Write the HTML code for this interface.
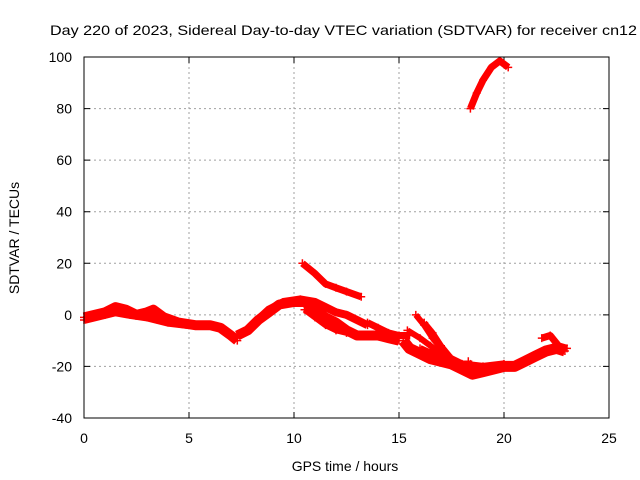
<!DOCTYPE html>
<html><head><meta charset="utf-8"><style>
html,body{margin:0;padding:0;background:#fff}
svg{display:block;font-family:"Liberation Sans",sans-serif}
</style></head><body>
<svg id="chart" width="640" height="480" viewBox="0 0 640 480">
<text x="50" y="35" font-size="14" textLength="587" lengthAdjust="spacingAndGlyphs" fill="#000">Day 220 of 2023, Sidereal Day-to-day VTEC variation (SDTVAR) for receiver cn12</text>
<text x="345" y="471" font-size="14" text-anchor="middle">GPS time / hours</text>
<text transform="translate(19,238) rotate(-90)" font-size="14" text-anchor="middle">SDTVAR / TECUs</text>
<g id="grid"></g><g id="ticks"></g><g id="series"></g>
<rect x="84" y="57" width="525" height="361" fill="none" stroke="#000" stroke-width="1"/>
</svg>
<script>
const xTicks=[0,5,10,15,20,25];
const yTicks=[-40,-20,0,20,40,60,80,100];
const trackA=[[0,-1],[0.5,0],[1,1],[1.5,3],[2,2],[2.5,0],[3,1],[3.3,2],[3.8,-1],[4.5,-3],[5.3,-4],[6,-4],[6.5,-5],[7,-8],[7.3,-10]];
const trackA2=[[0,-2],[1,0],[1.5,1],[2.2,0],[3,-1],[3.5,-2],[4,-3],[5,-4]];
const trackB=[[7.3,-8],[7.8,-6],[8.3,-2],[8.8,1],[9.3,4],[10,5],[10.5,5],[11,2],[11.5,-1],[12,-3],[12.5,-6],[13,-8],[13.5,-8],[14,-8],[14.5,-9],[15,-10]];
const trackB2=[[8,-4],[8.8,2],[9.5,5],[10.3,6],[11,5],[11.5,3],[12,1],[12.5,0],[13,-2],[13.5,-4]];
const trackB3=[[10.5,2],[11,-1],[11.5,-4],[12,-6],[12.5,-7]];
const trackC=[[10.4,20],[11,16],[11.5,12],[12,10.5],[12.5,9],[13.2,7]];
const trackD=[[13.5,-3],[14,-5],[14.5,-7],[15,-8],[15.5,-8]];
const trackE=[[15.2,-10],[15.5,-13],[16,-15],[16.5,-17],[17,-18],[17.5,-19],[18,-21],[18.5,-23],[19,-22],[19.5,-21],[20,-20],[20.5,-20],[21,-18],[21.5,-16],[22,-14],[22.5,-13],[22.9,-14]];
const trackE2=[[16,-13],[16.8,-16],[17.5,-17],[18,-19],[19,-20],[20,-19]];
const trackF=[[15.8,0],[16.2,-4],[16.6,-9],[17,-13],[17.3,-16],[17.6,-18]];
const trackF2=[[16.2,-3],[16.6,-7],[17,-12],[17.5,-17]];
const trackF3=[[15.4,-6],[16,-9],[16.5,-12],[17,-15]];
const trackG=[[18.3,-18],[18.6,-22]];
const trackH=[[21.8,-9],[22.2,-8],[22.6,-12],[23,-13]];
const trackTop=[[18.4,80],[18.7,86],[19,91],[19.4,96],[19.8,98.5],[20.2,96]];
const tracks=[[trackA,10],[trackA2,8],[trackB,10],[trackB2,8],[trackB3,6],[trackC,7],[trackD,7],[trackE,11],[trackE2,7],[trackF,6],[trackF2,6],[trackF3,6],[trackG,6],[trackH,7],[trackTop,7]];
const NS="http://www.w3.org/2000/svg";
const X0=84,X1=609,Y0=418,Y1=57;
const sx=v=>X0+(v-0)/25*(X1-X0);
const sy=v=>Y0-(v+40)/140*(Y0-Y1);
function mk(t,a){const e=document.createElementNS(NS,t);for(const k in a)e.setAttribute(k,a[k]);return e;}
const grid=document.getElementById('grid'),ticks=document.getElementById('ticks'),ser=document.getElementById('series');
xTicks.forEach(v=>{const x=sx(v);
 if(v>0&&v<25){const g=mk('line',{x1:x,x2:x,y1:Y1,y2:Y0,stroke:'#a0a0a0','stroke-dasharray':'2,3'});grid.appendChild(g);}
 const t=mk('path',{d:`M${x},${Y0}v-6M${x},${Y1}v6`,stroke:'#000'});ticks.appendChild(t);
 const l=mk('text',{x:x,y:443,'font-size':14,'text-anchor':'middle'});l.textContent=v;ticks.appendChild(l);});
yTicks.forEach(v=>{const y=sy(v);
 if(v>-40&&v<100){const g=mk('line',{x1:X0,x2:X1,y1:y,y2:y,stroke:'#a0a0a0','stroke-dasharray':'2,3'});grid.appendChild(g);}
 const t=mk('path',{d:`M${X0},${y}h6M${X1},${y}h-6`,stroke:'#000'});ticks.appendChild(t);
 const l=mk('text',{x:72,y:y+5,'font-size':14,'text-anchor':'end'});l.textContent=v;ticks.appendChild(l);});
tracks.forEach(([pts,w])=>{
 const d=pts.map((p,i)=>(i?'L':'M')+sx(p[0]).toFixed(1)+','+sy(p[1]).toFixed(1)).join('');
 const p=mk('path',{d:d,fill:'none',stroke:'#ff0000','stroke-width':w,'stroke-linejoin':'round'});
 
 
 ser.appendChild(p);
 pts.forEach(q=>{const m=mk('path',{d:`M${sx(q[0])-4},${sy(q[1])}h8M${sx(q[0])},${sy(q[1])-4}v8`,stroke:'#ff0000','stroke-width':1.5});
  
  
  ser.appendChild(m);});
});
</script>
</body></html>
